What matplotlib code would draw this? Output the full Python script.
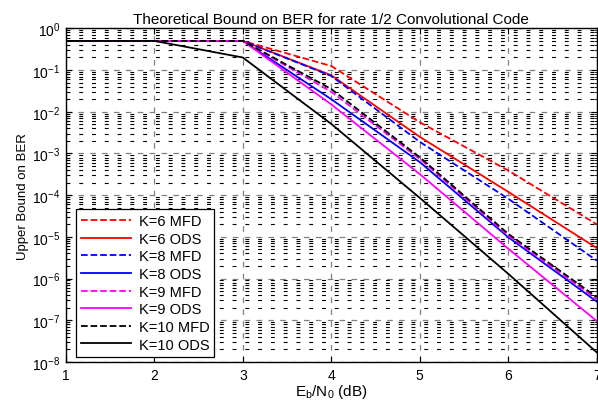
import matplotlib
matplotlib.use("Agg")
import matplotlib.pyplot as plt
import numpy as np
from matplotlib.ticker import LogLocator, NullFormatter

plt.rcParams['font.family'] = ['Liberation Sans', 'DejaVu Sans']

# Eb/N0 points (dB)
ebno = [1, 2, 3, 4, 5, 6, 7]

# BER upper bounds
k6_mfd = [0.5, 0.5, 0.5, 0.125, 5.6e-3, 3.9e-4, 2.0e-5]
k6_ods = [0.5, 0.5, 0.5, 0.075, 2.5e-3, 1.2e-4, 5.4e-6]
k8_mfd = [0.5, 0.5, 0.5, 0.072, 1.9e-3, 8.2e-5, 2.7e-6]
k8_ods = [0.5, 0.5, 0.5, 0.020, 6.2e-4, 9.8e-6, 2.8e-7]
k9_mfd = [0.5, 0.5, 0.5, 0.030, 7.4e-4, 1.07e-5, 3.2e-7]
k9_ods = [0.5, 0.5, 0.5, 0.015, 3.2e-4, 5.2e-6, 9.6e-8]
k10_mfd = [0.5, 0.5, 0.5, 0.035, 8.1e-4, 1.18e-5, 3.6e-7]
k10_ods = [0.5, 0.5, 0.2, 0.0051, 8.6e-5, 1.3e-6, 1.7e-8]

labels = ['K=6 MFD', 'K=6 ODS', 'K=8 MFD', 'K=8 ODS',
          'K=9 MFD', 'K=9 ODS', 'K=10 MFD', 'K=10 ODS']
series = [k6_mfd, k6_ods, k8_mfd, k8_ods, k9_mfd, k9_ods, k10_mfd, k10_ods]
colors = ['red', 'red', 'blue', 'blue', 'magenta', 'magenta', 'black', 'black']
styles = ['--', '-', '--', '-', '--', '-', '--', '-']

fig = plt.figure(figsize=(5.98, 4.02), dpi=100)
ax = fig.add_axes([0.110, 0.097, 0.888, 0.830])

for y, lab, c, ls in zip(series, labels, colors, styles):
    ax.semilogy(ebno, y, color=c, linestyle=ls, linewidth=1.3, label=lab)

ax.set_xlim(1, 7)
ax.set_ylim(1e-8, 1)
ax.set_xticks(ebno)
ax.yaxis.set_major_locator(LogLocator(base=10, numticks=12))
ax.yaxis.set_minor_locator(LogLocator(base=10, subs=np.arange(2, 10), numticks=12))
ax.yaxis.set_minor_formatter(NullFormatter())

# MATLAB-style dotted grid (looks dashed at this resolution)
ax.grid(True, which='major', axis='both', color='#808080', linestyle=(0, (4.5, 5)), linewidth=0.9)
ax.grid(True, which='minor', axis='y', color='black', linestyle=(0, (3.5, 8)), linewidth=0.8)

ax.tick_params(which='both', direction='in', labelsize=10, top=True, right=True)
ax.tick_params(which='major', length=4, pad=4)
ax.tick_params(which='minor', length=2)
for sp in ax.spines.values():
    sp.set_linewidth(1.0)

ax.set_title('Theoretical Bound on BER for rate 1/2 Convolutional Code', fontsize=11, pad=4)
ax.set_xlabel('E$_\\mathregular{b}$/N$_\\mathregular{0}$ (dB)', fontsize=11, labelpad=0)
ax.set_ylabel('Upper Bound on BER', fontsize=9.5, labelpad=2)

leg = ax.legend(loc='lower left', bbox_to_anchor=(0.019, 0.016), fontsize=10.5,
                fancybox=False, framealpha=1, edgecolor='black',
                handlelength=3.4, handletextpad=0.55, labelspacing=0.25,
                borderpad=0.35, borderaxespad=0)
leg.get_frame().set_linewidth(0.9)

fig.savefig('out.png', dpi=100)
